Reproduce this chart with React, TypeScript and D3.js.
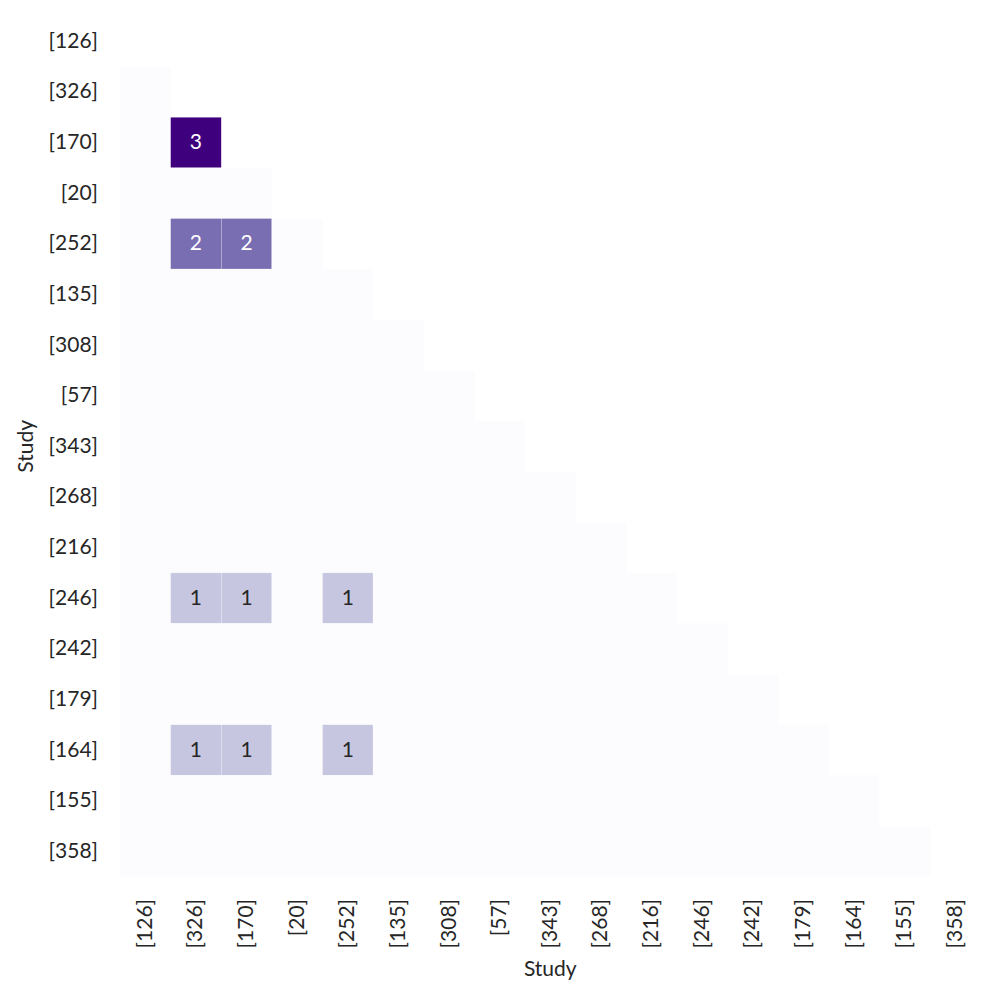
import React, { useRef, useEffect } from 'react';
import * as d3 from 'd3';

// study labels, same order on both axes
const studies = ['[126]', '[326]', '[170]', '[20]', '[252]', '[135]', '[308]', '[57]', '[343]', '[268]', '[216]', '[246]', '[242]', '[179]', '[164]', '[155]', '[358]'];

// non-zero overlaps: [row study, column study, count]; everything else in the lower triangle is 0
const overlaps: [string, string, number][] = [
  ['[170]', '[326]', 3],
  ['[252]', '[326]', 2],
  ['[252]', '[170]', 2],
  ['[246]', '[326]', 1],
  ['[246]', '[170]', 1],
  ['[246]', '[252]', 1],
  ['[164]', '[326]', 1],
  ['[164]', '[170]', 1],
  ['[164]', '[252]', 1],
];

const FONT = 'Lato, "Open Sans", sans-serif';
const FS = 21;

const App = () => {
  const svgRef = useRef<SVGSVGElement>(null);

  useEffect(() => {
    const width = 997;
    const height = 997;
    const margin = { top: 16, right: 16.4, bottom: 120.4, left: 120 };

    const svg = d3.select(svgRef.current);
    svg.selectAll('*').remove();
    svg.attr('width', width).attr('height', height);

    const x = d3.scaleBand().domain(studies).range([margin.left, width - margin.right]);
    const y = d3.scaleBand().domain(studies).range([margin.top, height - margin.bottom]);
    const color = d3.scaleSequential(d3.interpolatePurples).domain([0, 3]);

    const lookup = new Map(overlaps.map(([r, c, v]) => [`${r}|${c}`, v]));
    const cells: { row: string; col: string; value: number }[] = [];
    studies.forEach((row, i) => {
      studies.forEach((col, j) => {
        if (j < i) cells.push({ row, col, value: lookup.get(`${row}|${col}`) ?? 0 });
      });
    });

    const g = svg.append('g');

    g.selectAll('rect')
      .data(cells)
      .join('rect')
      .attr('x', d => x(d.col)!)
      .attr('y', d => y(d.row)!)
      .attr('width', x.bandwidth())
      .attr('height', y.bandwidth())
      .attr('fill', d => color(d.value))
      .attr('stroke', 'rgba(255,255,255,0.5)')
      .attr('stroke-width', 0.5);

    g.selectAll('text.val')
      .data(cells.filter(d => d.value > 0))
      .join('text')
      .attr('class', 'val')
      .attr('x', d => x(d.col)! + x.bandwidth() / 2)
      .attr('y', d => y(d.row)! + y.bandwidth() / 2 - 2)
      .attr('text-anchor', 'middle')
      .attr('dominant-baseline', 'central')
      .attr('font-family', FONT)
      .attr('font-size', FS)
      .attr('fill', d => (d.value >= 2 ? '#ffffff' : '#262626'))
      .text(d => d.value);

    // y tick labels
    svg.append('g')
      .selectAll('text')
      .data(studies)
      .join('text')
      .attr('x', 98)
      .attr('y', d => y(d)! + y.bandwidth() / 2 - 2)
      .attr('text-anchor', 'end')
      .attr('dominant-baseline', 'central')
      .attr('font-family', FONT)
      .attr('font-size', FS)
      .attr('fill', '#262626')
      .text(d => d);

    // x tick labels, rotated
    svg.append('g')
      .selectAll('text')
      .data(studies)
      .join('text')
      .attr('transform', d => `translate(${x(d)! + x.bandwidth() / 2 - 2},899) rotate(-90)`)
      .attr('text-anchor', 'end')
      .attr('dominant-baseline', 'central')
      .attr('font-family', FONT)
      .attr('font-size', FS)
      .attr('fill', '#262626')
      .text(d => d);

    // axis titles
    svg.append('text')
      .attr('x', (margin.left + width - margin.right) / 2)
      .attr('y', 967)
      .attr('text-anchor', 'middle')
      .attr('dominant-baseline', 'central')
      .attr('font-family', FONT)
      .attr('font-size', FS)
      .attr('fill', '#262626')
      .text('Study');

    svg.append('text')
      .attr('transform', `translate(24,${(margin.top + height - margin.bottom) / 2}) rotate(-90)`)
      .attr('text-anchor', 'middle')
      .attr('dominant-baseline', 'central')
      .attr('font-family', FONT)
      .attr('font-size', FS)
      .attr('fill', '#262626')
      .text('Study');
  }, []);

  return (
    <svg ref={svgRef} style={{ position: 'absolute', left: 0, top: 0, background: '#fff' }}></svg>
  );
};

export default App;
